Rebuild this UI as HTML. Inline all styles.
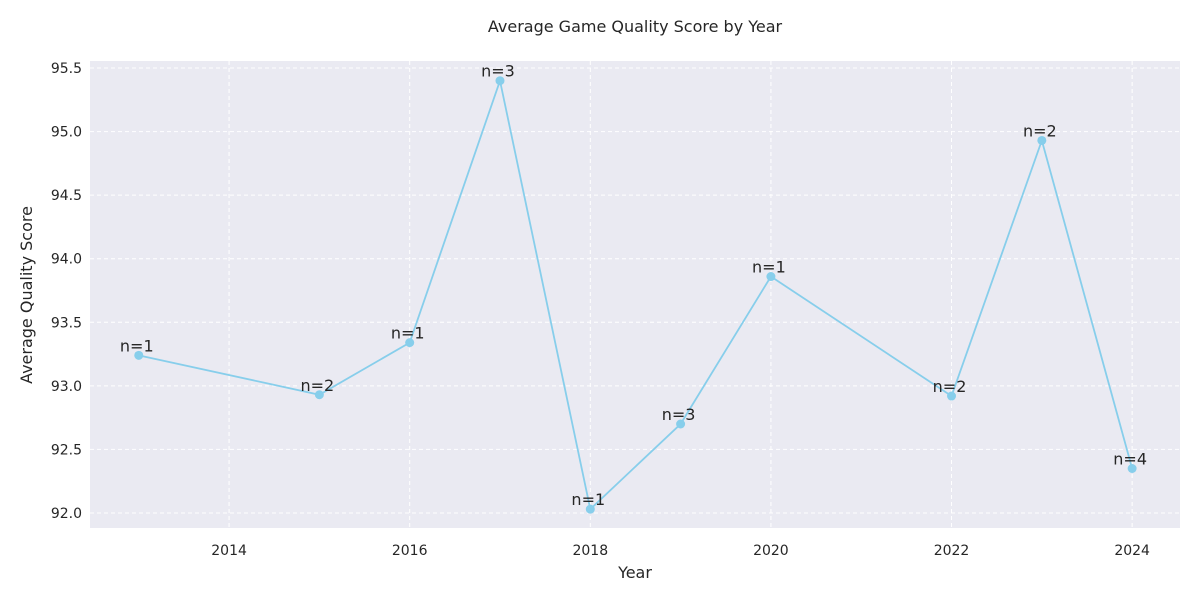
<!DOCTYPE html>
<html><head><meta charset="utf-8"><style>
html,body{margin:0;padding:0;background:#fff;}
svg{display:block;font-family:"DejaVu Sans","Liberation Sans",sans-serif;}
</style></head><body>
<svg id="chart" width="1200" height="600">
<rect x="90" y="61" width="1090" height="467" fill="#eaeaf2"/>
<g id="grid"></g><g id="ticks"></g><g id="series"></g>
<text x="635" y="32" text-anchor="middle" font-size="16" fill="#262626">Average Game Quality Score by Year</text>
<text x="635" y="578" text-anchor="middle" font-size="16" fill="#262626">Year</text>
<text transform="translate(32,295) rotate(-90)" text-anchor="middle" font-size="16" fill="#262626">Average Quality Score</text>
</svg>
<script>
const years=[2013,2015,2016,2017,2018,2019,2020,2022,2023,2024];
const scores=[93.24,92.93,93.34,95.40,92.03,92.70,93.86,92.92,94.93,92.35];
const counts=[1,2,1,3,1,3,1,2,2,4];
const xTicks=[2014,2016,2018,2020,2022,2024];
const yTicks=[92.0,92.5,93.0,93.5,94.0,94.5,95.0,95.5];
const X0=90,X1=1180,Y0=528,Y1=61;
const xMin=2012.46,xMax=2024.53,yMin=91.882,yMax=95.555;
const xs=v=>X0+(v-xMin)/(xMax-xMin)*(X1-X0);
const ys=v=>Y0-(v-yMin)/(yMax-yMin)*(Y0-Y1);
const NS="http://www.w3.org/2000/svg";
function mk(t,a,p){const e=document.createElementNS(NS,t);for(const k in a)e.setAttribute(k,a[k]);p.appendChild(e);return e;}
const grid=document.getElementById('grid'),ticks=document.getElementById('ticks'),ser=document.getElementById('series');
xTicks.forEach(v=>{
 const l=mk('line',{x1:xs(v),x2:xs(v),y1:Y1,y2:Y0,stroke:'#fff','stroke-dasharray':'4,3','stroke-width':1},grid);
 
 
 const t=mk('text',{x:xs(v),y:Y0+27,'text-anchor':'middle','font-size':14,fill:'#262626'},ticks);
 t.textContent=v;
 
 
});
yTicks.forEach(v=>{
 const l=mk('line',{x1:X0,x2:X1,y1:ys(v),y2:ys(v),stroke:'#fff','stroke-dasharray':'4,3','stroke-width':1},grid);
 
 
 const t=mk('text',{x:X0-8,y:ys(v)+5,'text-anchor':'end','font-size':14,fill:'#262626'},ticks);
 t.textContent=v.toFixed(1);
 
 
});
const pl=mk('polyline',{points:years.map((y,i)=>xs(y)+','+ys(scores[i])).join(' '),fill:'none',stroke:'#87ceeb','stroke-width':1.8},ser);


years.forEach((y,i)=>{
 const c=mk('circle',{cx:xs(y),cy:ys(scores[i]),r:4.5,fill:'#87ceeb'},ser);
 
 
 const t=mk('text',{x:xs(y)-2,y:ys(scores[i])-4,'text-anchor':'middle','font-size':16,fill:'#262626'},ser);
 t.textContent='n='+counts[i];
 
 
});
</script>
</body></html>
